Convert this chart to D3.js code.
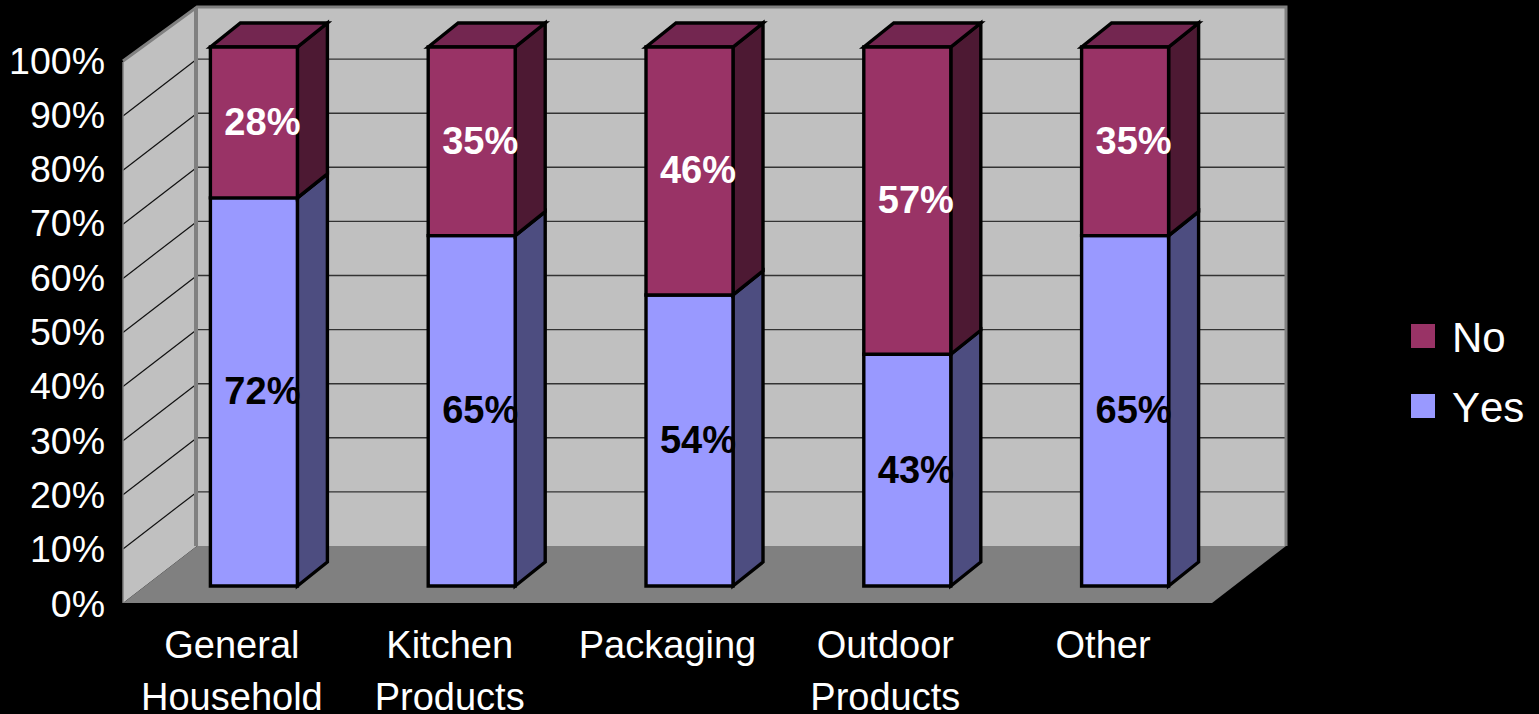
<!DOCTYPE html>
<html><head><meta charset="utf-8">
<style>html,body{margin:0;padding:0;background:#000;overflow:hidden}svg{display:block}text{font-family:"Liberation Sans",Arial,sans-serif;font-kerning:none}</style>
<script src="https://cdnjs.cloudflare.com/ajax/libs/d3/7.8.5/d3.min.js"></script>
</head><body><svg id="c" width="1539" height="714"></svg>
<script>
const categories = ["General Household","Kitchen Products","Packaging","Outdoor Products","Other"];
const yesValues = [72,65,54,43,65];
const noValues = [28,35,46,57,35];
const seriesNames = ["Yes","No"];
const legendOrder = ["No","Yes"];
const yTicks = [0,10,20,30,40,50,60,70,80,90,100];

const colors = {Yes:{front:"#9999FF",side:"#4D4D80",top:"#6E6EB8"},No:{front:"#993366",side:"#4D1933",top:"#732650"}};
const svg = d3.select("#c");
const depthX = 74, depthY = 57, barDX = 30, barDY = 24, barInsetX = 22;
const x = d3.scaleBand().domain(categories).range([123,1212]).paddingInner(0).paddingOuter(0);
const y = d3.scaleLinear().domain([0,100]).range([603,62]);
const yLabel = d3.scaleLinear().domain([0,100]).range([603,60]);
const yBar = d3.scaleLinear().domain([0,100]).range([586,47]);
const barW = 87;
const poly = pts => pts.map(p=>p.join(",")).join(" ");

// walls and floor
const x0 = x.range()[0], x1 = x.range()[1];
const yB = y(0), yT = y(100);
svg.append("polygon").attr("points",poly([[x0,yB],[x0+depthX,yB-depthY],[x0+depthX,yT-depthY+2],[x0,yT]])).attr("fill","#C0C0C0");
svg.append("polygon").attr("points",poly([[x0+depthX,yB-depthY],[x1+depthX,yB-depthY],[x1+depthX,yT-depthY+2],[x0+depthX,yT-depthY+2]])).attr("fill","#C0C0C0");
svg.append("polygon").attr("points",poly([[x0,yB],[x0+depthX,yB-depthY],[x1+depthX,yB-depthY],[x1,yB]])).attr("fill","#808080");

// gridlines
const inner = yTicks.filter(t=>t>0&&t<100);
svg.selectAll("line.g1").data(inner).join("line").attr("x1",x0).attr("x2",x0+depthX)
  .attr("y1",d=>y(d)).attr("y2",d=>y(d)-depthY).attr("stroke","#111").attr("stroke-width",1.2);
svg.selectAll("line.g2").data(inner).join("line").attr("x1",x0+depthX).attr("x2",x1+depthX)
  .attr("y1",d=>y(d)-depthY).attr("y2",d=>y(d)-depthY).attr("stroke","#333").attr("stroke-width",1.4);

// wall borders
svg.append("path").attr("fill","none").attr("stroke","#808080").attr("stroke-width",3)
  .attr("d",`M${x0},${yT-1}L${x0+depthX},${yT-depthY+2}L${x1+depthX},${yT-depthY+2}L${x1+depthX},${yB-depthY}`);
svg.append("line").attr("x1",x0+depthX-1).attr("x2",x0+depthX-1).attr("y1",yT-depthY+2).attr("y2",yB-depthY)
  .attr("stroke","#808080").attr("stroke-width",4);
svg.append("line").attr("x1",x0).attr("x2",x0).attr("y1",yT).attr("y2",yB).attr("stroke","#808080").attr("stroke-width",1.5);

// y axis
const axis = d3.axisLeft(yLabel).tickValues(yTicks).tickSize(0).tickPadding(18).tickFormat(d=>d+"%");
const gy = svg.append("g").attr("transform",`translate(${x0},1)`).call(axis);
gy.select(".domain").remove();
gy.selectAll("text").attr("fill","#fff").style("font-size","37.5px").style("font-family",'"Liberation Sans",Arial,sans-serif');

// bars
const rows = categories.map((c,i)=>({cat:c,Yes:yesValues[i],No:noValues[i]}));
const stack = d3.stack().keys(seriesNames)(rows);
stack.forEach(s=>{
  const g = svg.append("g");
  const col = colors[s.key];
  s.forEach(d=>{
    const cat = d.data.cat;
    const l = x(cat)+x.bandwidth()/2+barInsetX-barW/2, r = l+barW;
    const t = yBar(d[1]), b = yBar(d[0]);
    const add = (pts,f)=>g.append("polygon").attr("points",poly(pts)).attr("fill",f)
      .attr("stroke","#000").attr("stroke-width",3.4).attr("stroke-linejoin","miter");
    add([[r,b],[r+barDX,b-barDY],[r+barDX,t-barDY],[r,t]],col.side);
    if(d[1]>=100) add([[l,t],[l+barDX,t-barDY],[r+barDX,t-barDY],[r,t]],col.top);
    add([[l,b],[r,b],[r,t],[l,t]],col.front);
  });
});
// data labels
stack.forEach(s=>{
  s.forEach(d=>{
    const cx = x(d.data.cat)+x.bandwidth()/2+barInsetX+8.5;
    svg.append("text").attr("x",cx).attr("y",(yBar(d[0])+yBar(d[1]))/2+12.5)
      .attr("text-anchor","middle").attr("font-size",38).attr("font-weight","bold")
      .attr("fill",s.key==="No"?"#fff":"#000").text(d.data[s.key]+"%");
  });
});

// category labels
categories.forEach(c=>{
  const t = svg.append("text").attr("text-anchor","middle").attr("font-size",38).attr("fill","#fff");
  c.split(" ").forEach((w,i)=>t.append("tspan").attr("x",x(c)+x.bandwidth()/2).attr("y",658+i*52).text(w));
});

// legend
const ly = d3.scalePoint().domain(legendOrder).range([324,394]);
legendOrder.forEach(k=>{
  svg.append("rect").attr("x",1411).attr("y",ly(k)).attr("width",24).attr("height",24).attr("fill",colors[k].front);
  svg.append("text").attr("x",1452).attr("y",ly(k)+28).attr("font-size",42).attr("fill","#fff").text(k);
});
</script></body></html>
